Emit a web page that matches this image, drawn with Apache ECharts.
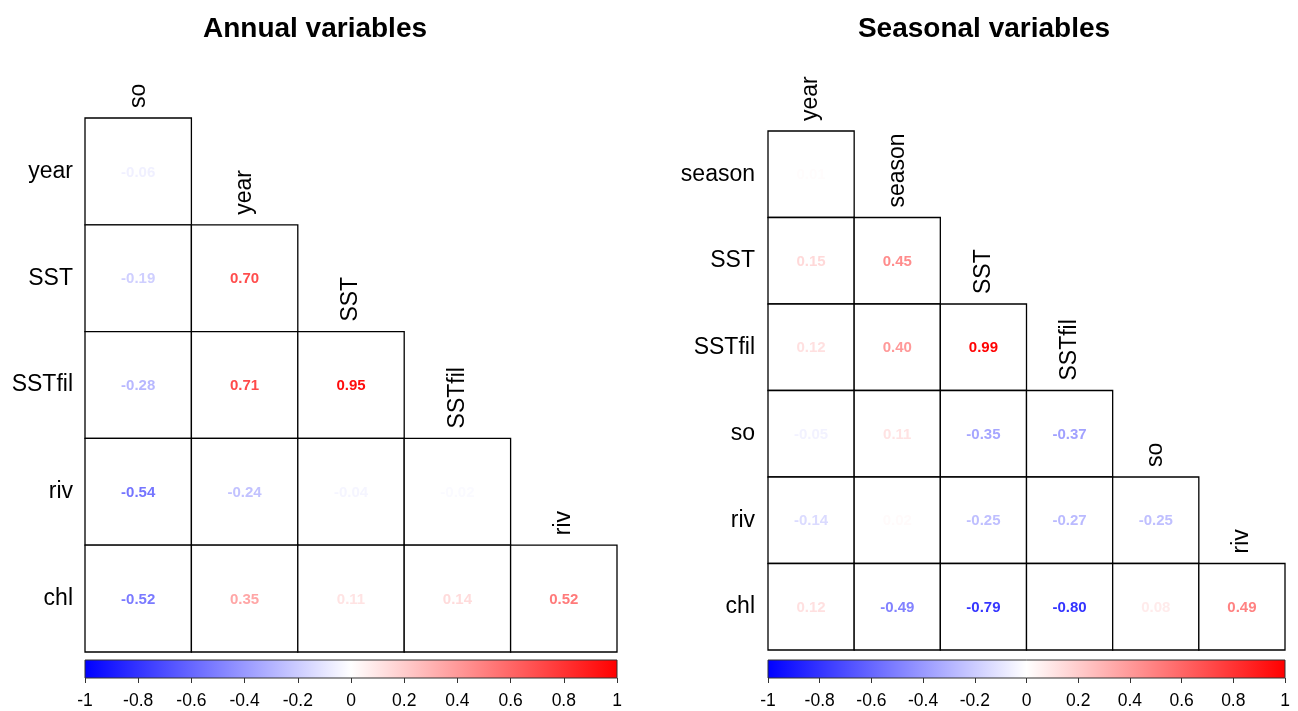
<!DOCTYPE html>
<html>
<head>
<meta charset="utf-8">
<script src="https://cdn.jsdelivr.net/npm/echarts@6/dist/echarts.min.js"></script>
<style>
  html, body { margin: 0; padding: 0; background: #fff; }
  #chart { width: 1298px; height: 711px; }
</style>
</head>
<body>
<div id="chart"></div>
<script>
// Annual correlation matrix (lower triangle, row by row)
const annualCols = ['so', 'year', 'SST', 'SSTfil', 'riv'];
const annualRows = ['year', 'SST', 'SSTfil', 'riv', 'chl'];
const annualValues = [
  [-0.06],
  [-0.19, 0.70],
  [-0.28, 0.71, 0.95],
  [-0.54, -0.24, -0.04, -0.02],
  [-0.52, 0.35, 0.11, 0.14, 0.52]
];

// Seasonal correlation matrix (lower triangle, row by row)
const seasonalCols = ['year', 'season', 'SST', 'SSTfil', 'so', 'riv'];
const seasonalRows = ['season', 'SST', 'SSTfil', 'so', 'riv', 'chl'];
const seasonalValues = [
  [0.01],
  [0.15, 0.45],
  [0.12, 0.40, 0.99],
  [-0.05, 0.11, -0.35, -0.37],
  [-0.14, 0.02, -0.25, -0.27, -0.25],
  [0.12, -0.49, -0.79, -0.80, 0.08, 0.49]
];

// Colour bar scale
const scaleMin = -1;
const scaleMax = 1;
const scaleStep = 0.2;

const FONT = '"Liberation Sans", Arial, sans-serif';

// blue - white - red ramp
function corrColor(v) {
  let r, g, b;
  if (v >= 0) {
    r = 255; g = Math.round(255 * (1 - v)); b = g;
  } else {
    r = Math.round(255 * (1 + v)); g = r; b = 255;
  }
  return 'rgb(' + r + ',' + g + ',' + b + ')';
}

function cellData(values) {
  const out = [];
  values.forEach((row, i) => row.forEach((v, j) => out.push([j, i, v])));
  return out;
}

function cellSeries(idx, values) {
  return {
    type: 'custom',
    xAxisIndex: idx, yAxisIndex: idx,
    silent: true,
    data: cellData(values),
    encode: { x: 0, y: 1 },
    renderItem: function (params, api) {
      const c = api.coord([api.value(0), api.value(1)]);
      const s = api.size([1, 1]);
      const v = api.value(2);
      return {
        type: 'group',
        children: [
          {
            type: 'rect',
            shape: { x: c[0] - s[0] / 2, y: c[1] - s[1] / 2, width: s[0], height: s[1] },
            style: { fill: '#fff', stroke: '#000', lineWidth: 1.3 }
          },
          {
            type: 'text',
            x: c[0], y: c[1] + 1,
            style: {
              text: v.toFixed(2), fill: corrColor(v),
              font: 'bold 15px ' + FONT, align: 'center', verticalAlign: 'middle'
            }
          }
        ]
      };
    }
  };
}

function colLabelSeries(idx, cols) {
  return {
    type: 'custom',
    xAxisIndex: idx, yAxisIndex: idx,
    silent: true,
    data: cols.map((name, j) => [j, j, name]),
    encode: { x: 0, y: 1 },
    renderItem: function (params, api) {
      const c = api.coord([api.value(0), api.value(1)]);
      const s = api.size([1, 1]);
      return {
        type: 'text',
        x: c[0], y: c[1] - s[1] / 2 - 10,
        rotation: Math.PI / 2,
        style: {
          text: cols[params.dataIndex], fill: '#000',
          font: '23px ' + FONT, align: 'left', verticalAlign: 'middle'
        }
      };
    }
  };
}

function barSeries(idx) {
  return {
    type: 'custom',
    xAxisIndex: idx, yAxisIndex: idx,
    silent: true,
    data: [[scaleMin, scaleMax]],
    renderItem: function (params, api) {
      const p0 = api.coord([api.value(0), 1]);
      const p1 = api.coord([api.value(1), 0]);
      return {
        type: 'rect',
        shape: { x: p0[0], y: p0[1], width: p1[0] - p0[0], height: p1[1] - p0[1] },
        style: {
          fill: new echarts.graphic.LinearGradient(0, 0, 1, 0, [
            { offset: 0, color: '#0000ff' },
            { offset: 0.5, color: '#ffffff' },
            { offset: 1, color: '#ff0000' }
          ]),
          stroke: '#333', lineWidth: 1
        }
      };
    }
  };
}

const grids = [
  { left: 85, top: 118, width: 532, height: 534 },
  { left: 768, top: 131, width: 517, height: 519 },
  { left: 85, top: 660, width: 532, height: 18 },
  { left: 768, top: 660, width: 517, height: 18 }
];

function matrixX(cols, gi) {
  return { type: 'category', gridIndex: gi, data: cols, show: false };
}
function matrixY(rows, gi, margin) {
  return {
    type: 'category', gridIndex: gi, data: rows, inverse: true,
    axisLine: { show: false }, axisTick: { show: false },
    axisLabel: { color: '#000', fontSize: 23, fontFamily: FONT, margin: margin }
  };
}
function barX(gi) {
  return {
    type: 'value', gridIndex: gi, min: scaleMin, max: scaleMax, interval: scaleStep,
    splitLine: { show: false },
    axisLine: { show: false },
    axisTick: { show: true, length: 5, lineStyle: { color: '#333' } },
    axisLabel: { color: '#000', fontSize: 17.5, fontFamily: FONT, margin: 14,
      formatter: v => String(Math.round(v * 10) / 10) }
  };
}
function barY(gi) {
  return { type: 'value', gridIndex: gi, min: 0, max: 1, show: false };
}

const chart = echarts.init(document.getElementById('chart'));
chart.setOption({
  animation: false,
  backgroundColor: '#fff',
  title: [
    { text: 'Annual variables', left: 310, top: 10, textAlign: 'center',
      textStyle: { fontSize: 28, fontWeight: 'bold', color: '#000', fontFamily: FONT } },
    { text: 'Seasonal variables', left: 979, top: 10, textAlign: 'center',
      textStyle: { fontSize: 28, fontWeight: 'bold', color: '#000', fontFamily: FONT } }
  ],
  grid: grids,
  xAxis: [matrixX(annualCols, 0), matrixX(seasonalCols, 1), barX(2), barX(3)],
  yAxis: [matrixY(annualRows, 0, 12), matrixY(seasonalRows, 1, 13), barY(2), barY(3)],
  series: [
    cellSeries(0, annualValues),
    colLabelSeries(0, annualCols),
    cellSeries(1, seasonalValues),
    colLabelSeries(1, seasonalCols),
    barSeries(2),
    barSeries(3)
  ]
});
</script>
</body>
</html>
